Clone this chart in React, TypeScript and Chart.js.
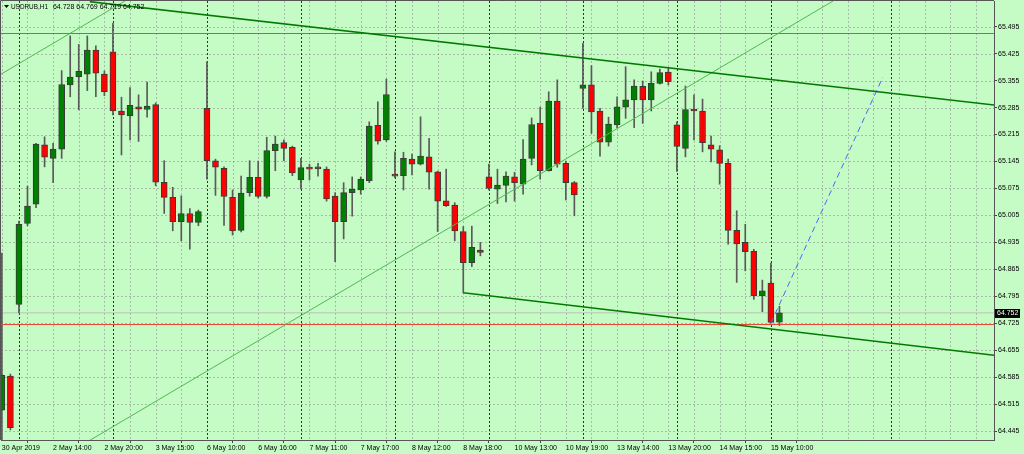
import React, { useEffect, useRef } from 'react';
import { Chart, registerables } from 'chart.js';

Chart.register(...registerables);

// ---- Data (USDRUB, H1) ----
const opens = [
  64.499, 64.588, 64.774, 64.984, 65.034, 65.188, 65.153, 65.177, 65.344, 65.365,
  65.372, 65.434, 65.372, 65.430, 65.276, 65.263, 65.287, 65.280, 65.293, 65.091,
  65.052, 64.989, 65.010, 64.987, 65.283, 65.147, 65.127, 65.052, 64.966, 65.064,
  65.104, 65.054, 65.173, 65.194, 65.182, 65.097, 65.129, 65.126, 65.125, 65.055,
  64.989, 65.064, 65.071, 65.095, 65.239, 65.201, 65.108, 65.108, 65.151, 65.138,
  65.157, 65.118, 65.043, 65.032, 64.963, 64.882, 64.915, 65.105, 65.073, 65.083,
  65.105, 65.086, 65.153, 65.244, 65.121, 65.302, 65.140, 65.090, 65.335, 65.344,
  65.276, 65.195, 65.240, 65.286, 65.305, 65.340, 65.305, 65.348, 65.377, 65.240,
  65.179, 65.280, 65.276, 65.188, 65.175, 65.140, 64.966, 64.935, 64.912, 64.796,
  64.829, 64.728,
];
const highs = [
  64.907, 64.593, 64.990, 65.081, 65.192, 65.209, 65.192, 65.381, 65.471, 65.449,
  65.471, 65.445, 65.380, 65.504, 65.312, 65.337, 65.318, 65.351, 65.297, 65.147,
  65.078, 65.056, 65.023, 65.019, 65.404, 65.151, 65.131, 65.071, 65.107, 65.147,
  65.146, 65.208, 65.211, 65.201, 65.185, 65.153, 65.138, 65.140, 65.131, 65.064,
  65.090, 65.105, 65.105, 65.248, 65.300, 65.359, 65.170, 65.169, 65.164, 65.261,
  65.205, 65.120, 65.125, 65.038, 64.976, 64.977, 64.935, 65.138, 65.125, 65.118,
  65.117, 65.202, 65.258, 65.286, 65.326, 65.357, 65.146, 65.093, 65.452, 65.394,
  65.283, 65.260, 65.313, 65.391, 65.357, 65.354, 65.378, 65.385, 65.389, 65.248,
  65.341, 65.318, 65.307, 65.211, 65.186, 65.151, 65.017, 64.982, 64.917, 64.837,
  64.881, 64.769,
];
const lows = [
  64.400, 64.448, 64.752, 64.978, 65.025, 65.131, 65.090, 65.153, 65.313, 65.279,
  65.329, 65.313, 65.316, 65.266, 65.162, 65.201, 65.197, 65.260, 65.082, 65.010,
  64.965, 64.939, 64.917, 64.978, 65.099, 65.057, 64.979, 64.954, 64.962, 65.055,
  65.050, 65.050, 65.121, 65.147, 65.108, 65.074, 65.097, 65.107, 65.042, 64.885,
  64.944, 65.003, 65.060, 65.090, 65.190, 65.197, 65.102, 65.071, 65.110, 65.136,
  65.073, 64.963, 65.028, 64.939, 64.804, 64.872, 64.900, 65.071, 65.036, 65.040,
  65.042, 65.060, 65.136, 65.099, 65.120, 65.130, 65.045, 65.004, 65.283, 65.218,
  65.159, 65.185, 65.233, 65.257, 65.233, 65.244, 65.276, 65.346, 65.344, 65.119,
  65.157, 65.201, 65.170, 65.144, 65.086, 64.930, 64.831, 64.861, 64.787, 64.755,
  64.725, 64.719,
];
const closes = [
  64.590, 64.454, 64.982, 65.029, 65.190, 65.156, 65.177, 65.345, 65.364, 65.379,
  65.434, 65.374, 65.326, 65.276, 65.266, 65.291, 65.281, 65.289, 65.091, 65.052,
  64.989, 65.010, 64.987, 65.015, 65.147, 65.130, 65.054, 64.965, 65.063, 65.104,
  65.054, 65.173, 65.190, 65.179, 65.115, 65.129, 65.125, 65.127, 65.048, 64.989,
  65.064, 65.073, 65.099, 65.237, 65.198, 65.319, 65.107, 65.153, 65.138, 65.159,
  65.117, 65.042, 65.030, 64.965, 64.882, 64.922, 64.909, 65.075, 65.084, 65.107,
  65.090, 65.151, 65.241, 65.121, 65.302, 65.138, 65.090, 65.058, 65.344, 65.274,
  65.195, 65.242, 65.287, 65.305, 65.341, 65.305, 65.348, 65.376, 65.352, 65.184,
  65.280, 65.276, 65.194, 65.177, 65.140, 64.966, 64.931, 64.911, 64.796, 64.809,
  64.727, 64.752,
];

const timeTickIndex = [0, 6, 12, 18, 24, 30, 36, 42, 48, 54, 60, 66, 72, 78, 84, 90];
const timeTickLabels = [
  '30 Apr 2019', '2 May 14:00', '2 May 20:00', '3 May 15:00', '6 May 10:00', '6 May 16:00',
  '7 May 11:00', '7 May 17:00', '8 May 12:00', '8 May 18:00', '10 May 13:00', '10 May 19:00',
  '13 May 14:00', '13 May 20:00', '14 May 15:00', '15 May 10:00',
];
const priceTicks = [
  64.445, 64.515, 64.585, 64.655, 64.725, 64.795, 64.865, 64.935,
  65.005, 65.075, 65.145, 65.215, 65.285, 65.355, 65.425, 65.495,
];
const daySeparators = [2, 13, 24, 35, 46, 57, 68, 79, 90, 104];

// drawn objects (bar index, price)
const upperChannel = [{ x: 10.3, y: 65.560 }, { x: 116.2, y: 65.2915 }];
const lowerChannel = [{ x: 54, y: 64.804 }, { x: 116.2, y: 64.6415 }];
const risingLineA = [{ x: -0.3, y: 65.369 }, { x: 14.5, y: 65.563 }];
const risingLineB = [{ x: 10.3, y: 64.421 }, { x: 97.3, y: 65.562 }];
const forecastLine = [{ x: 90, y: 64.725 }, { x: 103.1, y: 65.364 }];
const redLevels = [65.4773, 64.7217];
const bidPrice = 64.752;
const symbolTitle = 'USDRUB,H1';

const X_MIN = -0.1;
const X_MAX = 116.11;
const Y_MIN = 64.4218;
const Y_MAX = 65.5617;

const BG = '#c5fbc5';
const FONT = '"Liberation Sans", Arial, sans-serif';

const lineDs = (data: any[], color: string, width: number, dash: number[] = []) => ({
  type: 'line' as const,
  data,
  borderColor: color,
  borderWidth: width,
  borderDash: dash,
  pointRadius: 0,
  fill: false,
  tension: 0,
  order: -1,
});

export default function App() {
  const ref = useRef<HTMLCanvasElement | null>(null);

  useEffect(() => {
    document.body.style.margin = '0';
    document.body.style.background = BG;
    const canvas = ref.current;
    if (!canvas) return;

    const idx = opens.map((_, i) => i);
    const bodyColors = idx.map((i) => (closes[i] >= opens[i] ? '#008000' : '#ff0000'));

    const bgPlugin = {
      id: 'mtBackground',
      beforeDraw(chart: any) {
        const ctx = chart.ctx;
        ctx.save();
        ctx.fillStyle = BG;
        ctx.fillRect(0, 0, chart.width, chart.height);
        ctx.restore();
      },
      beforeDatasetsDraw(chart: any) {
        const ctx = chart.ctx;
        const { left, right, top, bottom } = chart.chartArea;
        const xs = chart.scales.x;
        const ys = chart.scales.y;
        ctx.save();
        ctx.beginPath();
        ctx.rect(left, top, right - left, bottom - top);
        ctx.clip();
        ctx.lineWidth = 1;
        ctx.strokeStyle = 'rgba(140,150,140,0.6)';
        ctx.setLineDash([2, 2]);
        for (const p of priceTicks) {
          const y = Math.round(ys.getPixelForValue(p)) + 0.5;
          ctx.beginPath();
          ctx.moveTo(left, y);
          ctx.lineTo(right, y);
          ctx.stroke();
        }
        for (let i = 0; i <= 117; i += 3) {
          if (daySeparators.includes(i)) continue;
          const x = Math.round(xs.getPixelForValue(i)) + 0.5;
          ctx.beginPath();
          ctx.moveTo(x, top);
          ctx.lineTo(x, bottom);
          ctx.stroke();
        }
        ctx.strokeStyle = '#303030';
        ctx.setLineDash([2, 2]);
        for (const i of daySeparators) {
          const x = Math.round(xs.getPixelForValue(i)) + 0.5;
          ctx.beginPath();
          ctx.moveTo(x, top);
          ctx.lineTo(x, bottom);
          ctx.stroke();
        }
        ctx.restore();
      },
      afterDraw(chart: any) {
        const ctx = chart.ctx;
        const { left, right, top, bottom } = chart.chartArea;
        const ys = chart.scales.y;
        ctx.save();
        ctx.strokeStyle = '#555';
        ctx.lineWidth = 1;
        ctx.setLineDash([]);
        ctx.beginPath();
        ctx.moveTo(left - 0.5, bottom);
        ctx.lineTo(left - 0.5, top - 0.5);
        ctx.lineTo(right, top - 0.5);
        ctx.stroke();

        // bid price box on the axis
        const yb = Math.round(ys.getPixelForValue(bidPrice));
        ctx.fillStyle = '#000';
        ctx.fillRect(right + 1, yb - 4, 25, 9);
        ctx.fillStyle = '#fff';
        ctx.font = `7px ${FONT}`;
        ctx.textBaseline = 'middle';
        ctx.textAlign = 'left';
        ctx.fillText(bidPrice.toFixed(3), right + 3, yb + 0.5);

        // title
        const n = opens.length - 1;
        ctx.fillStyle = '#000';
        ctx.beginPath();
        ctx.moveTo(left + 3, top + 4);
        ctx.lineTo(left + 8, top + 4);
        ctx.lineTo(left + 5.5, top + 7);
        ctx.closePath();
        ctx.fill();
        ctx.font = `6.4px ${FONT}`;
        ctx.fillText(symbolTitle, left + 10, top + 6);
        const tw = ctx.measureText(symbolTitle).width;
        ctx.font = `7px ${FONT}`;
        ctx.fillText(
          [opens[n], highs[n], lows[n], closes[n]].map((v) => v.toFixed(3)).join(' '),
          Math.max(left + 49, left + 10 + tw + 5),
          top + 6
        );
        ctx.restore();
      },
    };

    const chart = new Chart(canvas, {
      type: 'bar',
      data: {
        datasets: [
          lineDs(upperChannel, '#007a00', 1.6),
          lineDs(lowerChannel, '#007a00', 1.6),
          lineDs(risingLineA, '#52b852', 1),
          lineDs(risingLineB, '#52b852', 1),
          lineDs(forecastLine, '#4b67ff', 1, [6, 4]),
          lineDs([{ x: X_MIN - 1, y: redLevels[0] }, { x: X_MAX + 1, y: redLevels[0] }], '#f0463a', 1),
          lineDs([{ x: X_MIN - 1, y: redLevels[1] }, { x: X_MAX + 1, y: redLevels[1] }], '#f0463a', 1),
          {
            ...lineDs([{ x: X_MIN - 1, y: bidPrice }, { x: X_MAX + 1, y: bidPrice }], '#b9c4b9', 1),
            order: 5,
          },
          {
            type: 'bar' as const,
            data: idx.map((i) => ({ x: i, y: [opens[i], closes[i]] })),
            backgroundColor: bodyColors,
            borderColor: '#3a3a3a',
            borderWidth: 1,
            borderSkipped: false,
            barThickness: 6,
            minBarLength: 2,
            grouped: false,
            order: 1,
          },
          {
            type: 'bar' as const,
            data: idx.map((i) => ({ x: i, y: [lows[i], highs[i]] })),
            backgroundColor: '#5a5a5a',
            borderWidth: 0,
            barThickness: 1,
            grouped: false,
            order: 2,
          },
        ] as any,
      },
      options: {
        animation: false,
        responsive: false,
        events: [],
        layout: { padding: { left: 1, top: 1, right: 0, bottom: 0 } },
        plugins: { legend: { display: false }, tooltip: { enabled: false }, title: { display: false } },
        scales: {
          x: {
            type: 'linear',
            position: 'bottom',
            min: X_MIN,
            max: X_MAX,
            offset: false,
            afterBuildTicks: (s: any) => {
              s.ticks = timeTickIndex.map((v) => ({ value: v }));
            },
            afterFit: (s: any) => {
              s.height = 14;
              s.paddingLeft = 0;
              s.paddingRight = 0;
              s.paddingTop = 0;
              s.paddingBottom = 0;
            },
            ticks: {
              autoSkip: false,
              maxRotation: 0,
              minRotation: 0,
              align: 'start',
              padding: 1,
              color: '#000',
              font: { family: FONT, size: 7 },
              callback: (v: any) => {
                const k = timeTickIndex.indexOf(Number(v));
                return k >= 0 ? timeTickLabels[k] : '';
              },
            },
            grid: { drawOnChartArea: false, drawTicks: true, tickLength: 3, color: '#444' },
            border: { display: true, color: '#555' },
          },
          y: {
            type: 'linear',
            position: 'right',
            min: Y_MIN,
            max: Y_MAX,
            afterBuildTicks: (s: any) => {
              s.ticks = priceTicks.map((v) => ({ value: v }));
            },
            afterFit: (s: any) => {
              s.width = 30;
              s.paddingLeft = 0;
              s.paddingRight = 0;
              s.paddingTop = 0;
              s.paddingBottom = 0;
            },
            ticks: {
              padding: 1,
              color: '#000',
              font: { family: FONT, size: 7 },
              callback: (v: any) => Number(v).toFixed(3),
            },
            grid: { drawOnChartArea: false, drawTicks: true, tickLength: 3, color: '#444' },
            border: { display: true, color: '#555' },
          },
        },
      } as any,
      plugins: [bgPlugin],
    });

    return () => chart.destroy();
  }, []);

  return (
    <div style={{ width: 1024, height: 454, background: BG }}>
      <canvas ref={ref} width={1024} height={454} style={{ display: 'block' }} />
    </div>
  );
}
